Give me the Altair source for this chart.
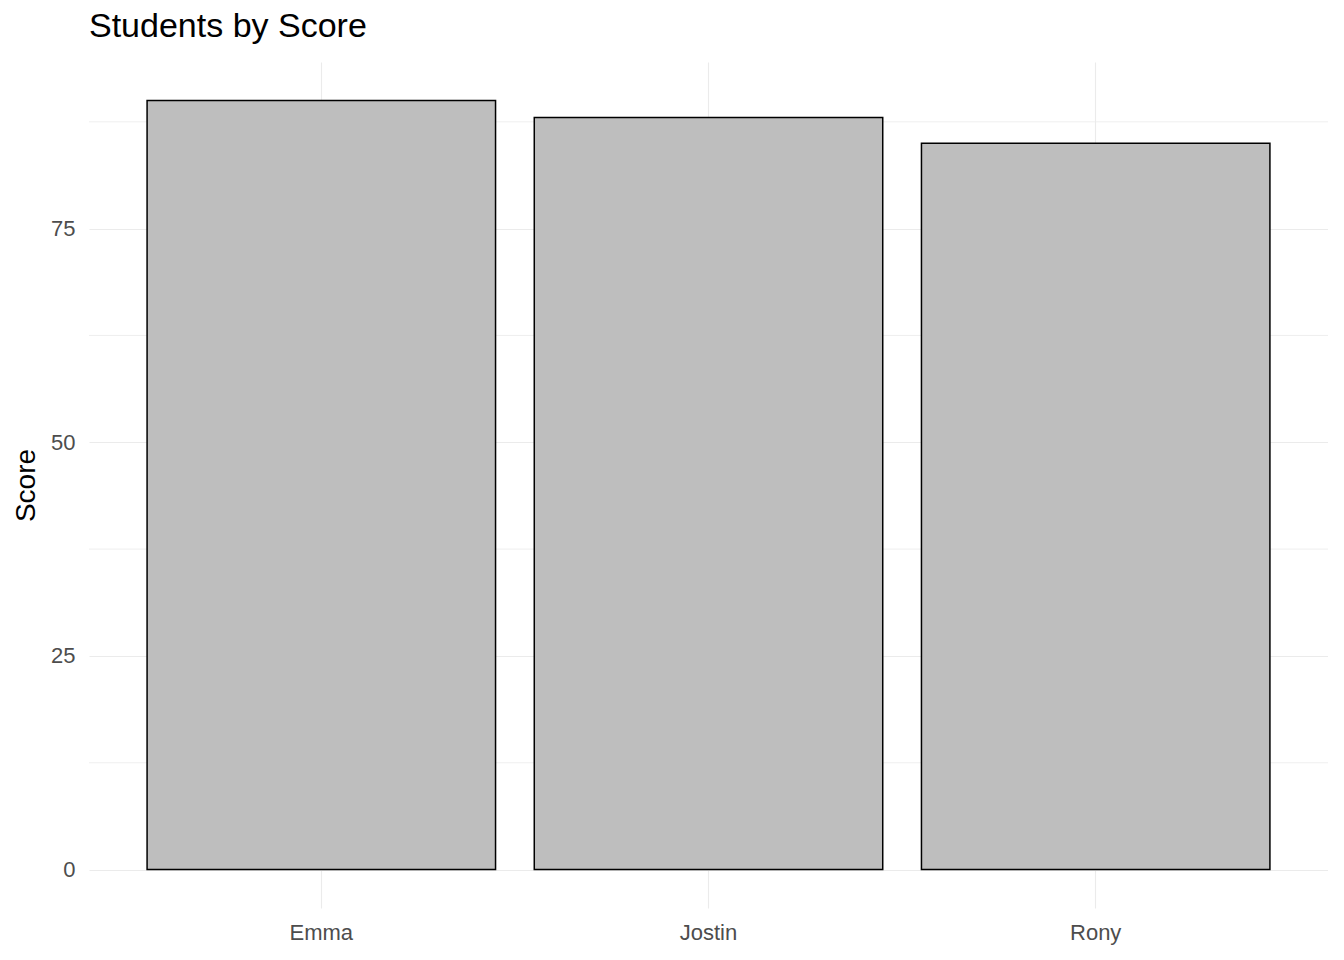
import altair as alt
import pandas as pd

students = ["Emma", "Jostin", "Rony"]
scores = [90, 88, 85]
minor_breaks = [12.5, 37.5, 62.5, 87.5]

df = pd.DataFrame({"Student": students, "Score": scores})
minor = pd.DataFrame({"y": minor_breaks})

yscale = alt.Scale(domain=[-4.5, 94.5], nice=False, zero=False)
xscale = alt.Scale(paddingInner=0.1, paddingOuter=0.15)

minor_grid = alt.Chart(minor).mark_rule(color="#EBEBEB", strokeWidth=0.8).encode(
    y=alt.Y("y:Q", scale=yscale)
)

bars = alt.Chart(df).mark_bar(color="#BEBEBE", stroke="black", strokeWidth=1.5).encode(
    x=alt.X("Student:N", title=None, scale=xscale, sort=students,
            axis=alt.Axis(labelAngle=0, bandPosition=0.5, grid=True, ticks=False,
                          domain=False, labelPadding=14)),
    y=alt.Y("Score:Q", title="Score", scale=yscale,
            axis=alt.Axis(values=[0, 25, 50, 75], grid=True, ticks=False,
                          domain=False, labelPadding=14, titlePadding=10)),
)

chart = (minor_grid + bars).properties(
    width=1239, height=846,
    autosize=alt.AutoSizeParams(type="none"),
    padding={"left": 81, "top": 54, "right": 0, "bottom": 40},
    title=alt.TitleParams("Students by Score", anchor="start", frame="group",
                          fontSize=34, fontWeight="normal", color="black",
                          font="Liberation Sans", offset=18),
).configure_axis(
    gridColor="#EBEBEB", gridWidth=1.1,
    labelFont="Liberation Sans", labelFontSize=22, labelColor="#4D4D4D",
    titleFont="Liberation Sans", titleFontSize=28, titleFontWeight="normal",
    titleColor="black",
).configure_view(stroke=None)

chart.save("out.html", embed_options={"renderer": "svg", "actions": False})
